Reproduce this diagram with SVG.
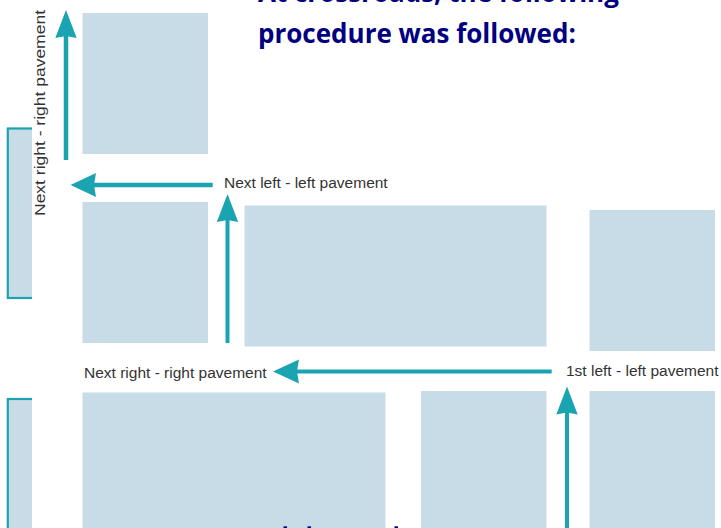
<svg xmlns="http://www.w3.org/2000/svg" width="721" height="528" viewBox="0 0 721 528">
<style>
.b{fill:#c8dce8}
.o{fill:#c8dce8;stroke:#1ba3ae;stroke-width:2.2}
.c{stroke:#1aa3b0;stroke-width:4;fill:none}
.w{stroke-width:4.500}
.h{fill:#1aa3b0}
.l{font-family:"Liberation Sans",Arial,sans-serif;font-size:15.500px;fill:#333}
.t{font-family:"Open Sans","Noto Sans",sans-serif;font-size:26px;font-weight:700;fill:#000080}
</style>
<rect width="721" height="528" fill="#fff"/>
<g id="blocks">
<g id="edge-block-1"><rect class="o" x="7.800" y="128.500" width="40" height="169.500"/></g>
<g id="edge-block-2"><rect class="o" x="7.800" y="399" width="40" height="140"/></g>
<rect x="32" y="0" width="50" height="528" fill="#fff"/>
<g id="block-a"><rect class="b" x="82.500" y="13" width="125.500" height="141"/></g>
<g id="block-b"><rect class="b" x="82.500" y="202" width="125.500" height="141"/></g>
<g id="block-c"><rect class="b" x="244.500" y="205.500" width="302" height="141"/></g>
<g id="block-d"><rect class="b" x="589.500" y="210" width="125.500" height="141"/></g>
<g id="block-e"><rect class="b" x="82.500" y="392.500" width="303" height="140"/></g>
<g id="block-f"><rect class="b" x="421" y="391" width="125.500" height="140"/></g>
<g id="block-g"><rect class="b" x="589.500" y="391" width="125.500" height="140"/></g>
</g>
<g id="connectors">
<path class="c w" d="M66 160V32"/><path class="h" d="M66 10l10.700 28-10.700-2-10.700 2z"/>
<path class="c w" d="M212.700 185H92"/><path class="h" d="M70.500 185l25.500-12-2 12 2 12z"/>
<path class="c" d="M227.500 343V216"/><path class="h" d="M227.500 194l10.700 28-10.700-2-10.700 2z"/>
<path class="c" d="M551.700 371.500H295"/><path class="h" d="M273 371.500l26-12-2 12 2 12z"/>
<path class="c" d="M567 528V408"/><path class="h" d="M567 386.500l10.700 28-10.700-2-10.700 2z"/>
</g>
<g id="labels">
<text class="l" x="224" y="187.500">Next left - left pavement</text>
<text class="l" x="84" y="378">Next right - right pavement</text>
<text class="l" x="566" y="375.500">1st left - left pavement</text>
<text class="l" style="font-size:15px" textLength="206" lengthAdjust="spacingAndGlyphs" transform="translate(45 216) rotate(-90)">Next right - right pavement</text>
</g>
<g id="headings">
<text class="t" x="258" y="2">At crossroads, the following</text>
<text class="t" x="258" y="42.500">procedure was followed:</text>
<g id="clipped-heading-tips" fill="#000080">
<rect x="283.500" y="526.300" width="3.500" height="1.700"/>
<rect x="307.500" y="526.300" width="3.500" height="1.700"/>
<rect x="394.500" y="526.300" width="3.500" height="1.700"/>
</g>
</g>
</svg>
